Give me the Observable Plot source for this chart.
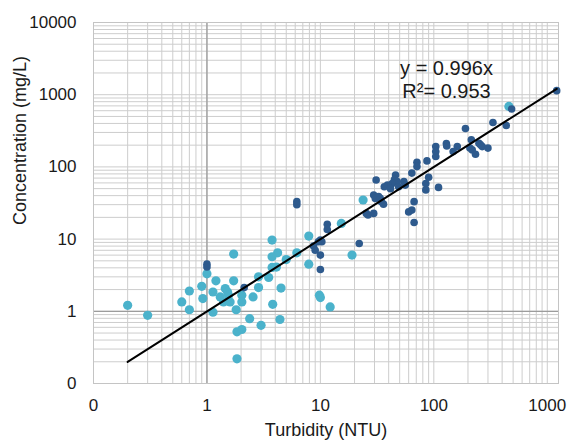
<!DOCTYPE html>
<html><head><meta charset="utf-8">
<script src="https://cdn.jsdelivr.net/npm/d3@7"></script>
<script src="https://cdn.jsdelivr.net/npm/@observablehq/plot@0.6"></script>
<style>body{margin:0;background:#fff;} svg{display:block;}</style>
</head><body><div id="chart"></div>
<script>
const darkTurbidity = [1211,485,332,435,190,214,250,258,208,218,267,300,233,
  129,130,161,104,104,104,148,87,71,71,64,90,85,85,110,
  46,45,47.5,43,39,36.6,41.5,54.5,56,49,31,
  29.5,30.5,32.6,33.7,34.5,36,
  25.4,26.3,29.5,
  60,64,67,67,
  22,6.2,6.2,11.5,11.5,
  10,10.3,9.6,8.7,9,10,10,
  1.0,1.0,2.13];
const darkConcentration = [1137,633,412,375,340,237,213,202,182,172,191,182,150,
  210,195,191,191,163,139,163,121,116,101,82,72,59,48,52,
  77,67,62.7,59,56,53,50,62.7,56,53,66,
  40.8,36.6,38.8,36.6,33,30.5,
  22.7,21.6,22.7,
  23.8,25.2,33,17,
  8.7,33,30,16,13.6,
  9.7,9.2,9.2,8,7,6,3.8,
  4.5,4.1,2.13];
const lightTurbidity = [459,23.8,15.3,7.9,6.2,19,7.9,5,4.2,4.5,
  3.75,3.75,1.72,3.75,4.1,1.0,0.9,1.2,1.72,2.85,3.5,
  0.92,1.13,1.45,1.52,1.55,1.31,1.4,1.6,2.03,2.03,2.55,2.85,
  1.81,1.13,3.8,2.38,3.0,4.4,1.84,2.03,1.84,
  9.8,10,12.2,0.2,0.3,0.6,0.7,0.7];
const lightConcentration = [688,34.8,16.5,11,6.45,6,4.5,5.2,6.45,2.1,
  9.7,5.7,6.2,4.05,4.1,3.3,2.22,2.64,2.64,3.0,2.94,
  1.5,1.85,2.07,1.85,1.67,1.58,1.35,1.35,1.67,1.35,1.58,2.13,
  1.05,0.97,1.25,0.79,0.64,0.77,0.52,0.56,0.22,
  1.67,1.55,1.15,1.21,0.88,1.35,1.05,1.91];
const xTickValues = [0.1,1,10,100,1000];
const xTickLabels = ["0","1","10","100","1000"];
const yTickValues = [0.1,1,10,100,1000,10000];
const yTickLabels = ["0","1","10","100","1000","10000"];
const trendTurbidity = [0.2, 1211];
const trendSlope = 0.996;
const equationLines = ["y = 0.996x", "R²= 0.953"];
const xTitle = "Turbidity (NTU)";
const yTitle = "Concentration (mg/L)";

const dark = darkTurbidity.map((x, i) => ({x, y: darkConcentration[i]}));
const light = lightTurbidity.map((x, i) => ({x, y: lightConcentration[i]}));
const trend = trendTurbidity.map(x => ({x, y: trendSlope * x}));

const minorX = [];
for (const d of [0.1, 1, 10, 100]) for (let k = 1; k < 10; k++) minorX.push(d * k);
minorX.push(1000);
const minorY = [];
for (const d of [0.1, 1, 10, 100, 1000]) for (let k = 1; k < 10; k++) minorY.push(d * k);
minorY.push(10000);

const font = "'Liberation Sans', Arial, sans-serif";
const ink = "#1a1a1a";
const chart = Plot.plot({
  width: 571, height: 447,
  marginLeft: 93, marginRight: 13, marginTop: 22, marginBottom: 64,
  style: {fontFamily: font, fontSize: "17px", color: ink, background: "#fff"},
  x: {type: "log", domain: [0.1, 1256]},
  y: {type: "log", domain: [0.1, 10000]},
  marks: [
    Plot.ruleX(minorX, {stroke: "#cdcdcd", strokeWidth: 1}),
    Plot.ruleY(minorY, {stroke: "#cdcdcd", strokeWidth: 1}),
    Plot.ruleX([1], {stroke: "#9c9c9c", strokeWidth: 1.3}),
    Plot.ruleY([1], {stroke: "#9c9c9c", strokeWidth: 1.3}),
    Plot.frame({stroke: "#c4c4c4"}),
    Plot.axisX(xTickValues, {tickFormat: d => xTickLabels[xTickValues.indexOf(d)], tickSize: 0, tickPadding: 15, fontSize: 17, label: null, fill: ink}),
    Plot.axisY(yTickValues, {tickFormat: d => yTickLabels[yTickValues.indexOf(d)], tickSize: 0, tickPadding: 17, fontSize: 17, label: null, fill: ink}),
    Plot.dot(light, {x: "x", y: "y", r: 4.6, fill: "#4bb2cb", stroke: "none"}),
    Plot.dot(dark, {x: "x", y: "y", r: 3.8, fill: "#2e5a8d", stroke: "none"}),
    Plot.line(trend, {x: "x", y: "y", stroke: "#000", strokeWidth: 2}),
    Plot.text([equationLines[0]], {frameAnchor: "top-left", dx: 446 - 93, dy: 60 - 22, fontSize: 20, fill: ink, textAnchor: "middle"}),
    Plot.text([equationLines[1]], {frameAnchor: "top-left", dx: 446 - 93, dy: 83 - 22, fontSize: 20, fill: ink, textAnchor: "middle"}),
    Plot.text([xTitle], {frameAnchor: "bottom", dy: 52, fontSize: 18, fill: ink}),
    Plot.text([yTitle], {frameAnchor: "left", dx: -73, dy: 22, rotate: -90, fontSize: 18, fill: ink})
  ]
});
document.getElementById("chart").appendChild(chart);
</script>
</body></html>
